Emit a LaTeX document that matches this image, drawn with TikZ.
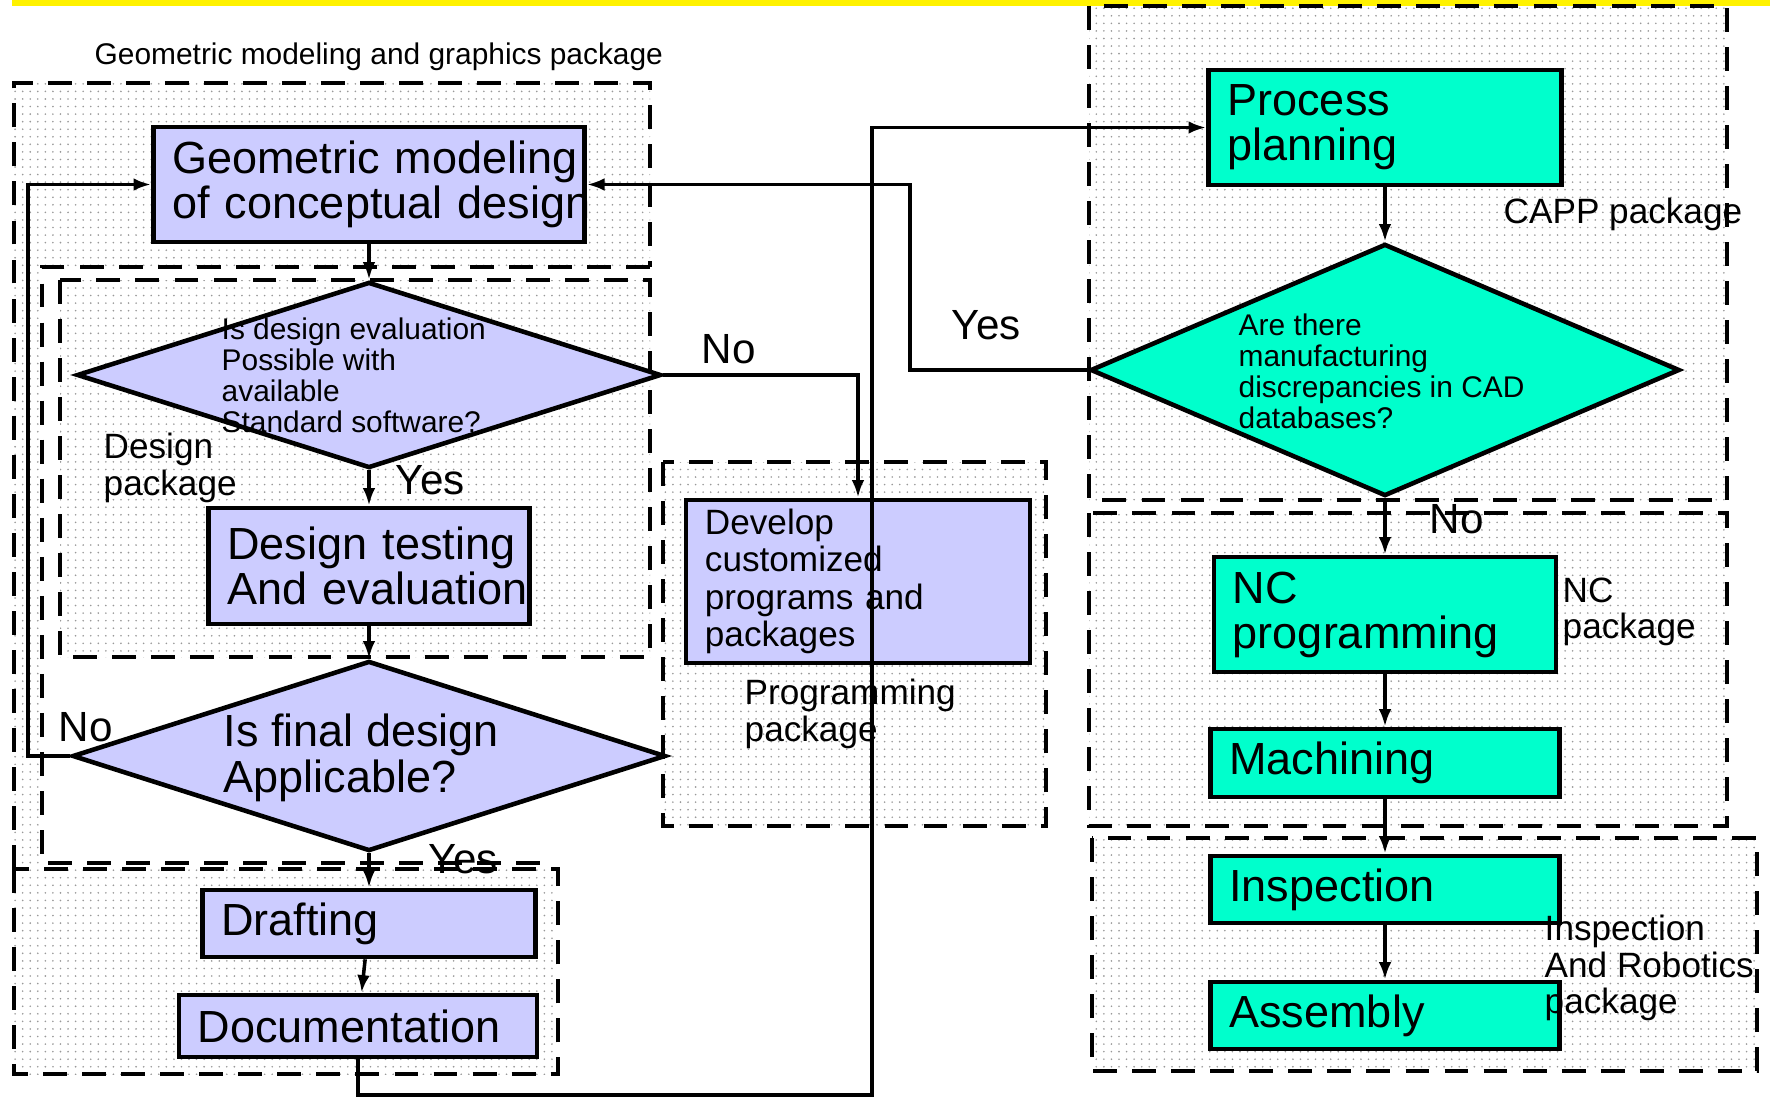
\documentclass[tikz,border=0pt]{standalone}
\usepackage{fontspec}
\setmainfont{Liberation Sans}
\usetikzlibrary{shapes.geometric,arrows.meta,patterns}
\definecolor{lavender}{RGB}{204,204,255}
\definecolor{aqua}{RGB}{0,255,204}
\pgfdeclarepatternformonly{finedots}{\pgfqpoint{-0.5pt}{-0.5pt}}{\pgfqpoint{0.5pt}{0.5pt}}{\pgfqpoint{2.15pt}{2.15pt}}{\pgfpathcircle{\pgfqpoint{0pt}{0pt}}{0.26pt}\pgfusepath{fill}}
\hyphenpenalty=10000
\exhyphenpenalty=10000

\begin{document}
\begin{tikzpicture}[x=0.01cm,y=-0.01cm,
		pkg/.style={dash pattern=on 6.8pt off 4.3pt, line width=1.1pt},
		dotfill/.style={pattern=finedots, pattern color=black!40},
		procbox/.style={draw, line width=1.3pt, inner xsep=0.19cm, inner ysep=0pt, align=left, font=\fontsize{12.8}{12.8}\selectfont},
		bluebox/.style={procbox, fill=lavender},
		greenbox/.style={procbox, fill=aqua},
		decide/.style={diamond, draw, line width=1.3pt, inner sep=0pt},
		flow/.style={line width=1pt, -{Latex[length=5pt,width=3.6pt]}},
		yesno/.style={font=\fontsize{12}{12}\selectfont, inner sep=0pt, anchor=west},
		pkgname/.style={font=\fontsize{10}{10.4}\selectfont, align=left, inner sep=0pt, anchor=west},
		qtext/.style={font=\fontsize{8.5}{8.8}\selectfont, align=left, inner sep=0pt, anchor=west}]
	\useasboundingbox (0,0) rectangle (1770,1097);
	\fill[yellow] (12,0) rectangle (1770,6);

	% package areas
	\fill[dotfill] (14,83) -- (650,83) -- (650,267) -- (42,267) -- (42,869) -- (14,869) -- cycle;
	\draw[pkg] (14,869) -- (14,83) -- (650,83) -- (650,267);
	\draw[pkg] (650,267) -- (42,267) -- (42,863) -- (555,863);
	\draw[pkg, dotfill] (60,280) rectangle (650,657);
	\draw[pkg, dotfill] (14,869) rectangle (558,1074);
	\draw[pkg, dotfill] (663,462) rectangle (1046,826);
	\draw[pkg, dotfill] (1089,6) rectangle (1727,500);
	\draw[pkg, dotfill] (1089,513) rectangle (1727,826);
	\draw[pkg, dotfill] (1092,838) rectangle (1757,1071);

	% design side
	\node[bluebox, text width=3.93cm, minimum height=1.15cm](geo) at (369,184.5) {Geometric~modeling\\of~conceptual~design};
	\node[decide, fill=lavender, minimum width=5.84cm, minimum height=1.86cm](d1) at (369,375) {};
	\node[qtext](d1txt) at (221,375) {Is design evaluation\\Possible with\\available\\Standard software?};
	\node[bluebox, text width=2.83cm, minimum height=1.16cm](dt) at (369,566) {Design~testing\\And~evaluation};
	\node[decide, fill=lavender, minimum width=5.93cm, minimum height=1.9cm](d3) at (369,756) {};
	\node[qtext, font=\fontsize{12.8}{13.1}\selectfont](d3txt) at (223,758) {Is final design\\Applicable?};
	\node[bluebox, text width=2.95cm, minimum height=0.67cm](draft) at (369,923.5) {Drafting};
	\node[bluebox, text width=3.2cm, minimum height=0.62cm](doc) at (358,1026) {Documentation};
	\node[bluebox, text width=3.06cm, minimum height=1.63cm, font=\fontsize{10}{10.6}\selectfont](dev) at (858,581.5) {Develop\\customized\\programs and\\packages};

	% manufacturing side
	\node[greenbox, text width=3.15cm, minimum height=1.15cm](pp) at (1385,127.5) {Process\\planning};
	\node[decide, fill=aqua, minimum width=5.89cm, minimum height=2.52cm](d2) at (1385,370) {};
	\node[qtext](d2txt) at (1238,371) {Are there\\manufacturing\\discrepancies in CAD\\databases?};
	\node[greenbox, text width=3.04cm, minimum height=1.15cm](nc) at (1385,614.5) {NC\\programming};
	\node[greenbox, text width=3.11cm, minimum height=0.68cm](mach) at (1385,763) {Machining};
	\node[greenbox, text width=3.11cm, minimum height=0.67cm](insp) at (1385,889.5) {Inspection};
	\node[greenbox, text width=3.11cm, minimum height=0.67cm](asm) at (1385,1015.5) {Assembly};

	% package names
	\node[qtext](gtitle) at (94,57) {Geometric modeling and graphics package};
	\node[pkgname](dpkg) at (103,468) {Design\\package};
	\node[pkgname](ppkg) at (744,714) {Programming\\package};
	\node[pkgname](cpkg) at (1503,214) {CAPP package};
	\node[pkgname](npkg) at (1562,612) {NC\\package};
	\node[pkgname](ipkg) at (1544,968) {Inspection\\And Robotics\\package};

	\coordinate(nocorner) at (28,184.5);
	\coordinate(yescorner) at (910,184.5);
	\coordinate(docbend) at (872,1095);

	\path [flow](geo) edge (d1);
	\path [flow](d1) edge (dt);
	\path [flow](dt) edge (d3);
	\path [flow](d3) edge (draft);
	\path [flow](draft) edge (doc);
	\path [flow](pp) edge (d2);
	\path [flow](d2) edge (nc);
	\path [flow](nc) edge (mach);
	\path [flow](mach) edge (insp);
	\path [flow](insp) edge (asm);
	\draw[flow] (d1.east) -| (dev.north);
	\draw[flow] (d3.west) -| (nocorner) -- (geo.west);
	\draw[flow] (d2.west) -| (yescorner) -- (geo.east);
	\draw[flow] (doc.south) |- (docbend) |- (pp.west);

	\node[yesno](y1) at (395,480) {Yes};
	\node[yesno](n1) at (701,349) {No};
	\node[yesno](y2) at (951,325) {Yes};
	\node[yesno](n2) at (1429,519) {No};
	\node[yesno](n3) at (58,727) {No};
	\node[yesno](y3) at (428,859) {Yes};
\end{tikzpicture}
\end{document}
